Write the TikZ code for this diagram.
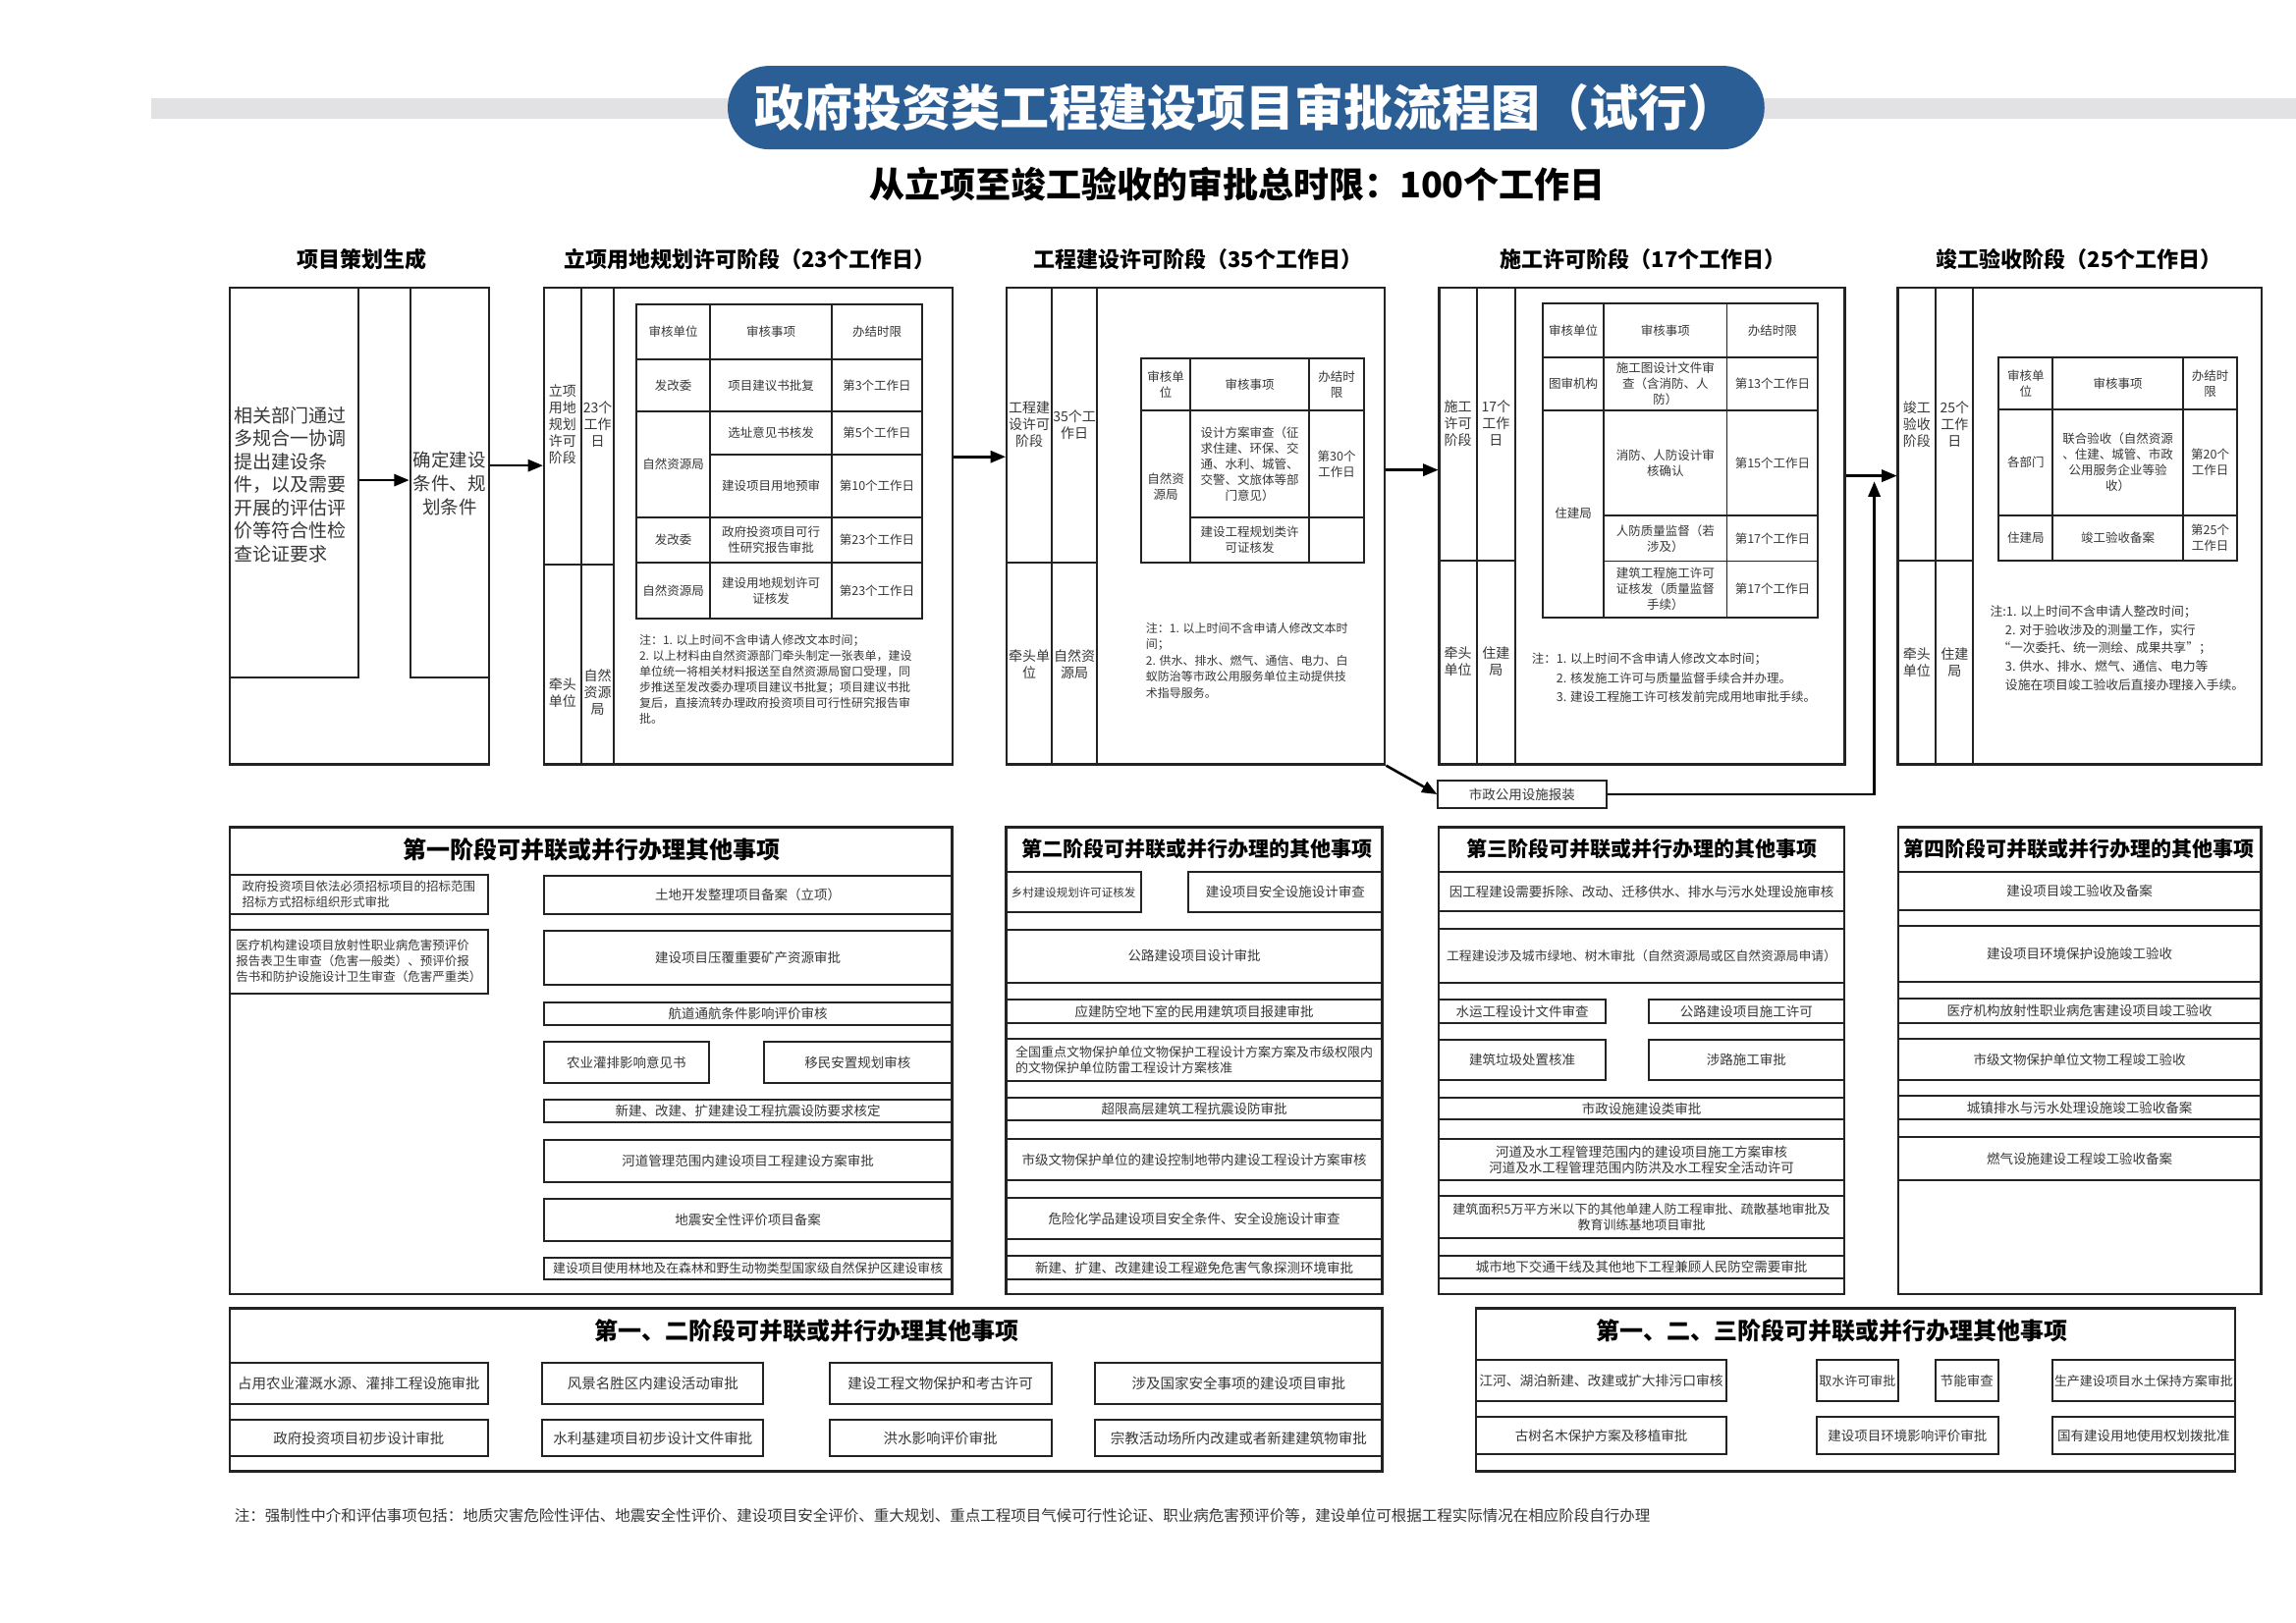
\documentclass[tikz,border=0pt]{standalone}
\usepackage{fontspec}
\setmainfont{Noto Sans CJK SC}
\usetikzlibrary{calc,arrows,fit}

\definecolor{titleblue}{RGB}{44,94,150}
\definecolor{bandgrey}{RGB}{226,226,229}
\definecolor{lineblack}{RGB}{35,35,35}
\definecolor{textgrey}{RGB}{55,55,55}

\tikzset{
	stagebox/.style={draw=lineblack, line width=2.6pt, inner sep=0pt},
	colbox/.style={draw=lineblack, line width=2pt, inner sep=0pt},
	colline/.style={draw=lineblack, line width=2pt},
	tabline/.style={draw=lineblack, line width=1.8pt},
	cell/.style={text=textgrey, align=center, inner sep=0pt, font=\fontsize{12.5}{16}\selectfont},
	lab/.style={text=textgrey, align=center, inner sep=0pt, font=\fontsize{14}{17}\selectfont},
	remark/.style={text=textgrey, align=left, anchor=north west, inner sep=0pt, font=\fontsize{12}{16}\selectfont},
	ibox/.style={draw=lineblack, line width=2pt, inner sep=0pt},
	itxt/.style={text=textgrey, align=center, inner sep=0pt, font=\fontsize{13.5}{16}\selectfont},
	hdr/.style={inner sep=0pt, font=\bfseries\fontsize{22}{26}\selectfont},
	ptitle/.style={inner sep=0pt, font=\bfseries\fontsize{21}{25}\selectfont},
	flow/.style={draw=black, line width=2.6pt, -triangle 45},
}

% box from (x1,y1) to (x2,y2) with its text in the middle
\newcommand{\itembox}[7][]{%
	\node[ibox, fit={(#3,#4) (#5,#6)}] (#2) {};
	\node[itxt, #1] (#2-t) at (#2.center) {#7};
}

\begin{document}
\begin{tikzpicture}[x=1.491pt,y=-1.491pt]
	\useasboundingbox[fill=white] (0,0) rectangle (1568,1108.6);
	
	% title
	\fill[bandgrey] (103,67) rectangle (1568,81);
	\node[fill=titleblue, rounded corners=42pt, fit={(497,45) (1205,102)}, inner sep=0pt] (title) {};
	\node[inner sep=0pt, text=white, font=\bfseries\fontsize{50}{56}\selectfont] (title-t) at (title.center) {政府投资类工程建设项目审批流程图（试行）};
	\node[inner sep=0pt, font=\bfseries\fontsize{36}{40}\selectfont] (subtitle) at (845,126) {从立项至竣工验收的审批总时限：100个工作日};
	
	\foreach \x/\t [count=\i] in {247/项目策划生成, 512/立项用地规划许可阶段（23个工作日）, 818/工程建设许可阶段（35个工作日）, 1122/施工许可阶段（17个工作日）, 1420/竣工验收阶段（25个工作日）}
		\node[hdr] (h\i) at (\x,177) {\t};
	
	% stage boxes
	\node[stagebox, fit={(157,196.5) (334,522)}] (s1) {};
	\node[stagebox, fit={(371.6,196.5) (650.6,522)}] (s2) {};
	\node[stagebox, fit={(687.5,196.5) (945.7,522)}] (s3) {};
	\node[stagebox, fit={(983,196.5) (1260,522)}] (s4) {};
	\node[stagebox, fit={(1296.2,196.5) (1544.4,522)}] (s5) {};
	
	% stage 1
	\node[colbox, fit={(157,196.5) (245,463)}] (s1a) {};
	\node[colbox, fit={(280,196.5) (334,463)}] (s1b) {};
	\node[anchor=west, text=textgrey, align=left, inner sep=0pt, font=\fontsize{19}{23.5}\selectfont] (s1a-t) at (160,331) {相关部门通过\\多规合一协调\\提出建设条\\件，以及需要\\开展的评估评\\价等符合性检\\查论证要求};
	\node[text=textgrey, align=center, inner sep=0pt, font=\fontsize{18.5}{24}\selectfont] (s1b-t) at (307,330) {确定建设\\条件、规\\划条件};
	\coordinate (y1) at (0,328);
	\draw[flow] (s1a.east |- y1) -- (s1b.west |- y1);
	
	% stage 2
	\draw[colline] (397,196.5) -- (397,522) (419,196.5) -- (419,522) (371.6,385.6) -- (419,385.6);
	\node[lab] (s2l1) at (384.2,290) {立项\\用地\\规划\\许可\\阶段};
	\node[lab] (s2l2) at (408.2,290) {23个\\工作\\日};
	\node[lab] (s2l3) at (384.2,473) {牵头\\单位};
	\node[lab] (s2l4) at (408.2,473) {自然\\资源\\局};
	\draw[tabline] (434.6,208) rectangle (629.8,422.5);
	\draw[tabline] (485,208) -- (485,422.5) (568,208) -- (568,422.5) (485,310.5) -- (629.8,310.5);
	\foreach \y in {245.5,281,353.5,384.3}
		\draw[tabline] (434.6,\y) -- (629.8,\y);
	\foreach \x/\y/\t [count=\i] in {459.8/226.75/审核单位, 526.5/226.75/审核事项, 598.9/226.75/办结时限, 459.8/263.25/发改委, 526.5/263.25/项目建议书批复, 598.9/263.25/第3个工作日, 459.8/317.25/自然资源局, 526.5/295.75/选址意见书核发, 598.9/295.75/第5个工作日, 526.5/332/建设项目用地预审, 598.9/332/第10个工作日, 459.8/368.9/发改委, 526.5/368.9/{政府投资项目可行\\性研究报告审批}, 598.9/368.9/第23个工作日, 459.8/403.4/自然资源局, 526.5/403.4/{建设用地规划许可\\证核发}, 598.9/403.4/第23个工作日}
		\node[cell] (t2c\i) at (\x,\y) {\t};
	\node[remark] (n2) at (436.5,433.5) {注：1. 以上时间不含申请人修改文本时间；\\2. 以上材料由自然资源部门牵头制定一张表单，建设\\单位统一将相关材料报送至自然资源局窗口受理，同\\步推送至发改委办理项目建议书批复；项目建议书批\\复后，直接流转办理政府投资项目可行性研究报告审\\批。};
	
	% stage 3
	\draw[colline] (718.3,196.5) -- (718.3,522) (749.2,196.5) -- (749.2,522) (687.5,384.3) -- (749.2,384.3);
	\node[lab] (s3l1) at (702.9,290) {工程建\\设许可\\阶段};
	\node[lab] (s3l2) at (733.8,290) {35个工\\作日};
	\node[lab] (s3l3) at (702.9,454) {牵头单\\位};
	\node[lab] (s3l4) at (733.8,454) {自然资\\源局};
	\draw[tabline] (779.3,244.8) rectangle (931.6,384.3);
	\draw[tabline] (812.9,244.8) -- (812.9,384.3) (894,244.8) -- (894,384.3) (779.3,280.3) -- (931.6,280.3) (812.9,353.5) -- (931.6,353.5);
	\foreach \x/\y/\t [count=\i] in {796.1/262.5/{审核单\\位}, 853.5/262.5/审核事项, 912.8/262.5/{办结时\\限}, 796.1/332.3/{自然资\\源局}, 853.5/316.9/{设计方案审查（征\\求住建、环保、交\\通、水利、城管、\\交警、文旅体等部\\门意见）}, 912.8/316.9/{第30个\\工作日}, 853.5/368.9/{建设工程规划类许\\可证核发}}
		\node[cell] (t3c\i) at (\x,\y) {\t};
	\node[remark, font=\fontsize{12}{16.5}\selectfont] (n3) at (782.5,425) {注：1. 以上时间不含申请人修改文本时\\间；\\2. 供水、排水、燃气、通信、电力、白\\蚁防治等市政公用服务单位主动提供技\\术指导服务。};
	
	% stage 4
	\draw[colline] (1008.5,196.5) -- (1008.5,522) (1034.7,196.5) -- (1034.7,522) (983,382.8) -- (1034.7,382.8);
	\node[lab] (s4l1) at (995.7,289) {施工\\许可\\阶段};
	\node[lab] (s4l2) at (1021.6,289) {17个\\工作\\日};
	\node[lab] (s4l3) at (995.7,452) {牵头\\单位};
	\node[lab] (s4l4) at (1021.6,452) {住建\\局};
	\draw[tabline] (1053.7,207) rectangle (1241.6,421.6);
	\draw[tabline] (1095.2,207) -- (1095.2,421.6) (1179.3,207) -- (1179.3,421.6) (1053.7,244.2) -- (1241.6,244.2) (1053.7,280.1) -- (1241.6,280.1) (1095.2,352.3) -- (1241.6,352.3) (1095.2,383.3) -- (1241.6,383.3);
	\foreach \x/\y/\t [count=\i] in {1074.5/225.6/审核单位, 1137.3/225.6/审核事项, 1210.5/225.6/办结时限, 1074.5/262.2/图审机构, 1137.3/262.2/{施工图设计文件审\\查（含消防、人\\防）}, 1210.5/262.2/第13个工作日, 1074.5/350.9/住建局, 1137.3/316.2/{消防、人防设计审\\核确认}, 1210.5/316.2/第15个工作日, 1137.3/367.8/{人防质量监督（若\\涉及）}, 1210.5/367.8/第17个工作日, 1137.3/402.5/{建筑工程施工许可\\证核发（质量监督\\手续）}, 1210.5/402.5/第17个工作日}
		\node[cell] (t4c\i) at (\x,\y) {\t};
	\node[remark, font=\fontsize{12.5}{19.4}\selectfont] (n4) at (1046,446) {注：1. 以上时间不含申请人修改文本时间；\\\hphantom{注：}2. 核发施工许可与质量监督手续合并办理。\\\hphantom{注：}3. 建设工程施工许可核发前完成用地审批手续。};
	
	% stage 5
	\draw[colline] (1322,196.5) -- (1322,522) (1347.6,196.5) -- (1347.6,522) (1296.2,383) -- (1347.6,383);
	\node[lab] (s5l1) at (1309,289.5) {竣工\\验收\\阶段};
	\node[lab] (s5l2) at (1334.8,289.5) {25个\\工作\\日};
	\node[lab] (s5l3) at (1309,452.7) {牵头\\单位};
	\node[lab] (s5l4) at (1334.8,452.7) {住建\\局};
	\draw[tabline] (1364.9,244.1) rectangle (1528,382.7);
	\draw[tabline] (1401.8,244.1) -- (1401.8,382.7) (1490.7,244.1) -- (1490.7,382.7) (1364.9,279.5) -- (1528,279.5) (1364.9,352.1) -- (1528,352.1);
	\foreach \x/\y/\t [count=\i] in {1383.4/261.8/{审核单\\位}, 1446.3/261.8/审核事项, 1509.4/261.8/{办结时\\限}, 1383.4/315.8/各部门, 1446.3/315.8/{联合验收（自然资源\\、住建、城管、市政\\公用服务企业等验\\收）}, 1509.4/315.8/{第20个\\工作日}, 1383.4/367.4/住建局, 1446.3/367.4/竣工验收备案, 1509.4/367.4/{第25个\\工作日}}
		\node[cell] (t5c\i) at (\x,\y) {\t};
	\node[remark, font=\fontsize{12.8}{18.7}\selectfont] (n5) at (1359,413.5) {注:1. 以上时间不含申请人整改时间；\\\hspace*{1.2em}2. 对于验收涉及的测量工作，实行\\\hspace*{0.6em}“一次委托、统一测绘、成果共享”；\\\hspace*{1.2em}3. 供水、排水、燃气、通信、电力等\\\hspace*{1.2em}设施在项目竣工验收后直接办理接入手续。};
	
	% connectors
	\coordinate (y12) at (0,318);
	\coordinate (y23) at (0,312);
	\coordinate (y34) at (0,321);
	\coordinate (y45) at (0,325);
	\draw[flow] (s1.east |- y12) -- (s2.west |- y12);
	\draw[flow] (s2.east |- y23) -- (s3.west |- y23);
	\draw[flow] (s3.east |- y34) -- (s4.west |- y34);
	\draw[flow] (s4.east |- y45) -- (s5.west |- y45);
	\itembox{szgy}{982}{533}{1097}{552}{市政公用设施报装}
	\coordinate (up45) at (1280,329);
	\draw[flow] (s3.south east) -- (szgy.west);
	\draw[flow] (szgy.east) -| (up45);
	
	% first stage
	\node[stagebox, fit={(157,565) (650,884)}] (p1) {};
	\node[ptitle, font=\bfseries\fontsize{24}{28}\selectfont] (p1t) at (404,580.5) {第一阶段可并联或并行办理其他事项};
	\itembox[align=left, font=\fontsize{12.5}{16}\selectfont]{p1l1}{157}{597.5}{333}{624.4}{政府投资项目依法必须招标项目的招标范围\\招标方式招标组织形式审批}
	\itembox[align=left, font=\fontsize{12.5}{16}\selectfont]{p1l2}{157}{635}{333}{678.5}{医疗机构建设项目放射性职业病危害预评价\\报告表卫生审查（危害一般类）、预评价报\\告书和防护设施设计卫生审查（危害严重类）}
	\foreach \n/\ya/\yb/\t in {a/598/624.3/土地开发整理项目备案（立项）, b/635.5/672.4/建设项目压覆重要矿产资源审批, c/684.7/700.4/航道通航条件影响评价审核, e/750.8/766.4/新建、改建、扩建建设工程抗震设防要求核定, f/778.7/807.4/河道管理范围内建设项目工程建设方案审批, g/819/847.4/地震安全性评价项目备案}{
		\itembox{p1\n}{371.6}{\ya}{650}{\yb}{\t}
	}
	\itembox{p1d1}{371.6}{711.6}{484}{739.6}{农业灌排影响意见书}
	\itembox{p1d2}{521.6}{711.6}{650}{739.6}{移民安置规划审核}
	\itembox[font=\fontsize{12.8}{15}\selectfont]{p1h}{371.6}{858.8}{650}{873.8}{建设项目使用林地及在森林和野生动物类型国家级自然保护区建设审核}
	
	% second stage
	\node[stagebox, fit={(687,565) (944.1,884)}] (p2) {};
	\node[ptitle] (p2t) at (817.6,579.5) {第二阶段可并联或并行办理的其他事项};
	\itembox[font=\fontsize{11.5}{14}\selectfont]{p2a1}{687}{595.8}{779.1}{623.1}{乡村建设规划许可证核发}
	\itembox{p2a2}{811.5}{595.8}{944.1}{623.1}{建设项目安全设施设计审查}
	\foreach \n/\ya/\yb/\t in {c/634.9/671.2/公路建设项目设计审批, d/683/699/应建防空地下室的民用建筑项目报建审批, f/749.6/765.3/超限高层建筑工程抗震设防审批, g/778/806/市级文物保护单位的建设控制地带内建设工程设计方案审核, h/818.2/846.6/危险化学品建设项目安全条件、安全设施设计审查, i/858/874.1/新建、扩建、改建建设工程避免危害气象探测环境审批}{
		\itembox{p2\n}{687}{\ya}{944.1}{\yb}{\t}
	}
	\itembox[align=left, font=\fontsize{13}{16}\selectfont]{p2e}{687}{709.8}{944.1}{738.4}{全国重点文物保护单位文物保护工程设计方案方案及市级权限内\\的文物保护单位防雷工程设计方案核准}
	
	% third stage
	\node[stagebox, fit={(982.6,565) (1259.5,884)}] (p3) {};
	\node[ptitle] (p3t) at (1121,579.5) {第三阶段可并联或并行办理的其他事项};
	\foreach \n/\ya/\yb/\t in {a/595.8/622.7/因工程建设需要拆除、改动、迁移供水、排水与污水处理设施审核, e/749.8/764.8/市政设施建设类审批, f/778/806/{河道及水工程管理范围内的建设项目施工方案审核\\河道及水工程管理范围内防洪及水工程安全活动许可}, h/858/873/城市地下交通干线及其他地下工程兼顾人民防空需要审批}{
		\itembox{p3\n}{982.6}{\ya}{1259.5}{\yb}{\t}
	}
	\itembox[font=\fontsize{12.8}{15}\selectfont]{p3b}{982.6}{634.2}{1259.5}{671.1}{工程建设涉及城市绿地、树木审批（自然资源局或区自然资源局申请）}
	\itembox[font=\fontsize{13}{16}\selectfont]{p3g}{982.6}{817.1}{1259.5}{845.7}{建筑面积5万平方米以下的其他单建人防工程审批、疏散基地审批及\\教育训练基地项目审批}
	\itembox{p3c1}{982.6}{682.8}{1096.7}{698.9}{水运工程设计文件审查}
	\itembox{p3c2}{1125.7}{682.8}{1259.5}{698.9}{公路建设项目施工许可}
	\itembox{p3d1}{982.6}{710.1}{1096.7}{738}{建筑垃圾处置核准}
	\itembox{p3d2}{1125.7}{710.1}{1259.5}{738}{涉路施工审批}
	
	% fourth stage
	\node[stagebox, fit={(1296.5,565) (1544,884)}] (p4) {};
	\node[ptitle] (p4t) at (1420,579.5) {第四阶段可并联或并行办理的其他事项};
	\foreach \n/\ya/\yb/\t in {a/595.4/621.6/建设项目竣工验收及备案, b/632.6/670.6/建设项目环境保护设施竣工验收, c/681.8/698.6/医疗机构放射性职业病危害建设项目竣工验收, d/709.4/737.8/市级文物保护单位文物工程竣工验收, e/748.6/764.8/城镇排水与污水处理设施竣工验收备案, f/776.6/806.4/燃气设施建设工程竣工验收备案}{
		\itembox{p4\n}{1296.5}{\ya}{1544}{\yb}{\t}
	}
	
	% stages one and two
	\node[stagebox, fit={(157,893.6) (944.1,1005)}] (p12) {};
	\node[ptitle, font=\bfseries\fontsize{24}{28}\selectfont] (p12t) at (551,908.8) {第一、二阶段可并联或并行办理其他事项};
	\foreach \xa/\xb/\ta/\tb [count=\i] in {157/333.1/占用农业灌溉水源、灌排工程设施审批/政府投资项目初步设计审批, 370.5/521.4/风景名胜区内建设活动审批/水利基建项目初步设计文件审批, 566.5/718/建设工程文物保护和考古许可/洪水影响评价审批, 747.7/944.1/涉及国家安全事项的建设项目审批/宗教活动场所内改建或者新建建筑物审批}{
		\itembox[font=\fontsize{14.5}{17}\selectfont]{p12a\i}{\xa}{930.7}{\xb}{959.1}{\ta}
		\itembox[font=\fontsize{14.5}{17}\selectfont]{p12b\i}{\xa}{969.8}{\xb}{994.8}{\tb}
	}
	
	% stages one, two and three
	\node[stagebox, fit={(1008,893.6) (1526.5,1005)}] (p123) {};
	\node[ptitle, font=\bfseries\fontsize{24}{28}\selectfont] (p123t) at (1251,908.8) {第一、二、三阶段可并联或并行办理其他事项};
	\itembox[font=\fontsize{13.8}{16}\selectfont]{p123a1}{1008}{929}{1179}{957}{江河、湖泊新建、改建或扩大排污口审核}
	\itembox[font=\fontsize{13}{16}\selectfont]{p123a2}{1240.6}{929}{1296.4}{957}{取水许可审批}
	\itembox{p123a3}{1321.7}{929}{1364.8}{957}{节能审查}
	\itembox[font=\fontsize{13}{16}\selectfont]{p123a4}{1401.4}{929}{1526.5}{957}{生产建设项目水土保持方案审批}
	\itembox{p123b1}{1008}{968}{1179}{993}{古树名木保护方案及移植审批}
	\itembox{p123b2}{1240.6}{968}{1364.8}{993}{建设项目环境影响评价审批}
	\itembox[font=\fontsize{13.5}{16}\selectfont]{p123b3}{1401.4}{968}{1526.5}{993}{国有建设用地使用权划拨批准}
	
	\node[anchor=west, inner sep=0pt, text=textgrey, font=\fontsize{15.5}{18}\selectfont] (fnote) at (160,1035) {注：强制性中介和评估事项包括：地质灾害危险性评估、地震安全性评价、建设项目安全评价、重大规划、重点工程项目气候可行性论证、职业病危害预评价等，建设单位可根据工程实际情况在相应阶段自行办理};
\end{tikzpicture}
\end{document}
